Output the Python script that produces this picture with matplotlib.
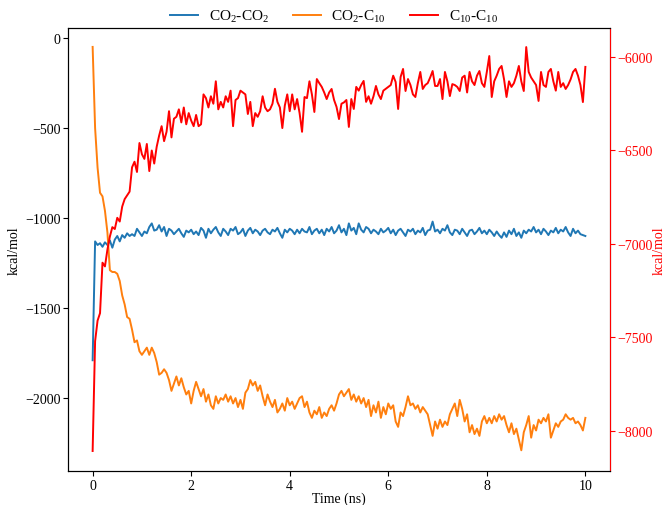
import numpy as np
import matplotlib
matplotlib.use("Agg")
import matplotlib.pyplot as plt

plt.rcParams['font.family'] = ['Liberation Serif', 'DejaVu Serif']
plt.rcParams['mathtext.fontset'] = 'custom'
plt.rcParams['mathtext.rm'] = 'Liberation Serif'
plt.rcParams['mathtext.it'] = 'Liberation Serif:italic'

time_ns = [i * 0.05 for i in range(201)]

co2_co2 = [
    -1790, -1130, -1150, -1140, -1160, -1135, -1150, -1125, -1165, -1120,
    -1100, -1130, -1095, -1110, -1085, -1100, -1090, -1100, -1060, -1080,
    -1100, -1075, -1085, -1050, -1030, -1070, -1065, -1040, -1075, -1050,
    -1100, -1060, -1070, -1090, -1075, -1060, -1085, -1105, -1070, -1080,
    -1065, -1090, -1075, -1095, -1055, -1070, -1110, -1060, -1085, -1065,
    -1050, -1080, -1100, -1060, -1075, -1095, -1060, -1070, -1050, -1090,
    -1080, -1060, -1100, -1070, -1055, -1085, -1065, -1075, -1095, -1070,
    -1060, -1080, -1090, -1065, -1075, -1055, -1085, -1110, -1065, -1080,
    -1060, -1070, -1090, -1065, -1085, -1060, -1075, -1080, -1050, -1090,
    -1070, -1060, -1085, -1065, -1095, -1060, -1075, -1050, -1085, -1070,
    -1040, -1080, -1060, -1095, -1030, -1070, -1055, -1090, -1030, -1065,
    -1080, -1050, -1060, -1085, -1065, -1075, -1090, -1060, -1080, -1070,
    -1055, -1085, -1065, -1095, -1070, -1060, -1080, -1100, -1065, -1075,
    -1060, -1090, -1070, -1080, -1055, -1095, -1070, -1065, -1020, -1075,
    -1065, -1085, -1060, -1070, -1040, -1080, -1095, -1065, -1070, -1090,
    -1060, -1080, -1100, -1070, -1065, -1090, -1075, -1055, -1085, -1070,
    -1090, -1065, -1080, -1100, -1075, -1095, -1110, -1080, -1105, -1070,
    -1090, -1060, -1100, -1080, -1110, -1070, -1085, -1065, -1075, -1050,
    -1080, -1065, -1090, -1060, -1075, -1095, -1070, -1080, -1055, -1085,
    -1065, -1075, -1050, -1080, -1100, -1060, -1085, -1070, -1090, -1095,
    -1100,
]

co2_c10 = [
    -50, -500, -720, -860, -880, -960, -1080, -1290, -1300, -1300,
    -1310, -1350, -1430, -1480, -1550, -1560, -1620, -1690, -1680, -1740,
    -1760, -1740, -1720, -1760, -1720, -1750, -1800, -1870, -1860, -1840,
    -1860, -1900, -1960, -1920, -1880, -1930, -1890, -1940, -1980, -1960,
    -2030, -1960, -1910, -1950, -1990, -1950, -2020, -1980, -2040, -2060,
    -1990, -2030, -2000, -2010, -1980, -2020, -1990, -2030, -2000, -2050,
    -2010, -2060, -1970, -1950, -1900, -1930, -1910, -1960, -1930, -1990,
    -2040, -1980, -2020, -2050, -2010, -2080, -2060, -2030, -2070, -2000,
    -2040, -2020, -2060, -2030, -2000, -1990, -2050, -2020, -2080, -2110,
    -2070, -2090, -2050, -2110, -2080, -2100, -2060, -2040, -2070, -2030,
    -1980, -1960, -1990, -1970, -1950, -2010, -1980, -2020, -1990, -2030,
    -2000, -2050, -2010, -2100, -2040, -2080, -2020, -2110, -2050, -2090,
    -2030, -2060, -2040, -2130, -2160, -2080, -2100, -2050, -1990, -2040,
    -2030, -2060, -2040, -2080, -2050, -2070, -2090, -2150, -2210, -2130,
    -2170, -2120, -2160, -2130, -2150, -2090, -2060, -2030, -2100, -2010,
    -2060, -2130, -2090, -2190, -2150, -2200, -2170, -2210, -2130, -2100,
    -2140, -2110, -2140, -2100, -2130, -2090, -2120, -2100, -2150, -2190,
    -2140, -2200, -2170, -2230, -2290, -2190, -2150, -2100, -2220, -2150,
    -2180, -2120, -2140, -2110, -2130, -2090, -2220, -2180, -2140, -2160,
    -2130, -2120, -2090, -2110, -2120, -2110, -2140, -2130, -2150, -2180,
    -2110,
]

c10_c10 = [
    -8107, -7520, -7410, -7370, -7100, -7120, -7030, -6960, -6910, -6920,
    -6860, -6880, -6800, -6760, -6740, -6720, -6590, -6560, -6615, -6460,
    -6520, -6545, -6465, -6610, -6500, -6570, -6480, -6420, -6370, -6450,
    -6400, -6290, -6430, -6330, -6320, -6280, -6350, -6270, -6360, -6300,
    -6340, -6370, -6310, -6370, -6360, -6200, -6220, -6270, -6210, -6250,
    -6130, -6280, -6240, -6270, -6210, -6240, -6180, -6370, -6230, -6220,
    -6180, -6190, -6200, -6305, -6240, -6370, -6300, -6320, -6290, -6210,
    -6270, -6290, -6280, -6250, -6170, -6240, -6270, -6380, -6260, -6200,
    -6290, -6200, -6280, -6225, -6300, -6400, -6214, -6220, -6130, -6200,
    -6294, -6118, -6140, -6160, -6190, -6225, -6190, -6171, -6230, -6267,
    -6332, -6250, -6243, -6230, -6374, -6225, -6278, -6160, -6180, -6150,
    -6128, -6240, -6210, -6250, -6210, -6155, -6200, -6225, -6180, -6170,
    -6160, -6150, -6100, -6134, -6278, -6107, -6064, -6182, -6118, -6150,
    -6200, -6214, -6140, -6080, -6171, -6150, -6140, -6110, -6075, -6155,
    -6155, -6118, -6225, -6080, -6130, -6209, -6145, -6150, -6160, -6182,
    -6110, -6100, -6190, -6080, -6130, -6150, -6100, -6075, -6140, -6160,
    -6080, -5995, -6214, -6130, -6100, -6064, -6048, -6120, -6214, -6130,
    -6160, -6140, -6100, -6048, -6130, -6182, -5947, -6080, -6110, -6130,
    -6150, -6235, -6080, -6150, -6160, -6080, -6064, -6130, -6180, -6080,
    -6160, -6140, -6171, -6150, -6120, -6080, -6064, -6100, -6150, -6241,
    -6053,
]

labels = ["CO$_\\mathrm{2}$-CO$_\\mathrm{2}$", "CO$_\\mathrm{2}$-C$_\\mathrm{10}$", "C$_\\mathrm{10}$-C$_\\mathrm{10}$"]
xticks = [0, 2, 4, 6, 8, 10]

fig = plt.figure(figsize=(6.68, 5.06), dpi=100)
ax = fig.add_axes([68/668, 1-472/506, (610-68)/668, (472-29)/506])
ax2 = ax.twinx()

l1, = ax.plot(time_ns, co2_co2, color='#1f77b4', lw=1.4, label=labels[0])
l2, = ax.plot(time_ns, co2_c10, color='#ff7f0e', lw=1.4, label=labels[1])
l3, = ax2.plot(time_ns, c10_c10, color='red', lw=1.4, label=labels[2])

ax.set_xlim(-0.5, 10.5)
ax.set_ylim(-2405, 55)
ax2.set_ylim(-8214, -5845)
ax.set_xticks(xticks)
ax.set_yticks([0, -500, -1000, -1500, -2000])
ax2.set_yticks([-6000, -6500, -7000, -7500, -8000])

ax.set_xlabel("Time (ns)", fontsize=10, labelpad=0)
ax.set_ylabel("kcal/mol", fontsize=10, labelpad=3)
ax2.set_ylabel("kcal/mol", fontsize=10, color='red', labelpad=0)
ax.tick_params(labelsize=10, pad=2)
ax2.tick_params(axis='y', colors='red', labelsize=10, pad=2)
ax2.spines['right'].set_color('red')

fig.legend(handles=[l1, l2, l3], loc='center', bbox_to_anchor=(0.5, 1-17/506),
           ncol=3, frameon=False, fontsize=11, handlelength=1.8, columnspacing=1.6,
           handletextpad=0.7)

fig.savefig("out.png", dpi=100)
